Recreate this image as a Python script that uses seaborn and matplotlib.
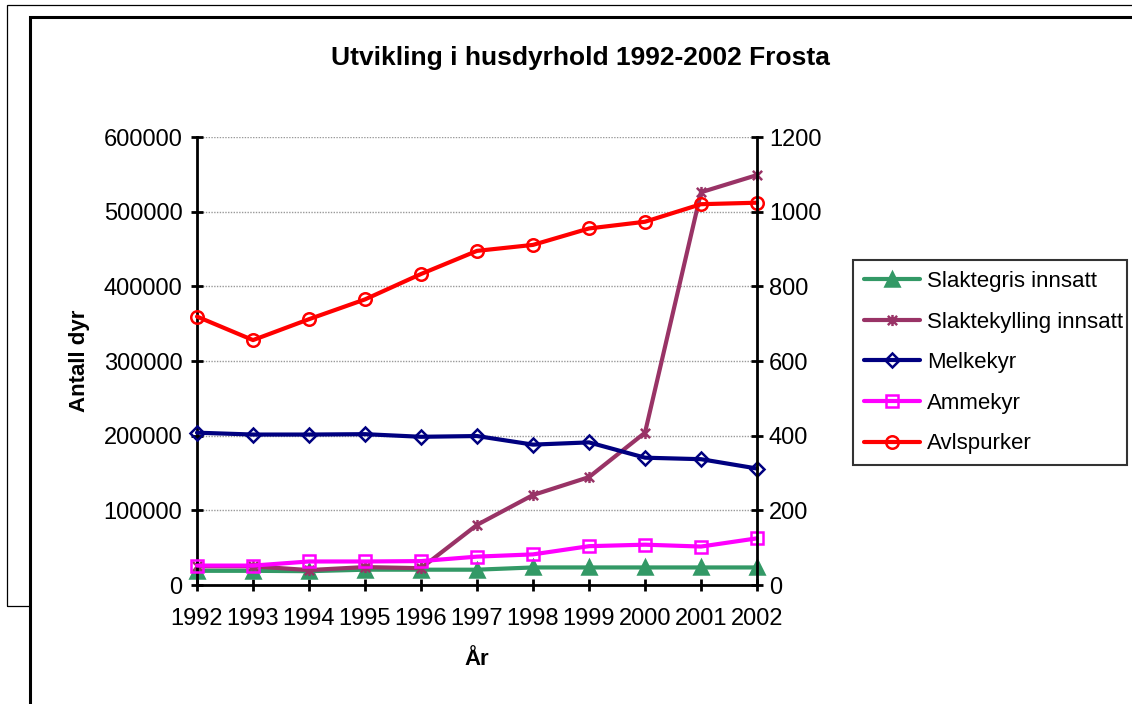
import matplotlib
matplotlib.use("Agg")
import matplotlib.pyplot as plt
import seaborn as sns
import pandas as pd
from matplotlib.patches import Rectangle
from matplotlib.lines import Line2D
from matplotlib.path import Path

years = [1992, 1993, 1994, 1995, 1996, 1997, 1998, 1999, 2000, 2001, 2002]
# left axis
slaktegris = [19000, 19000, 18500, 20500, 20500, 20500, 23500, 23500, 23500, 23500, 23500]
slaktekylling = [25000, 25000, 20000, 24000, 22500, 80500, 120500, 144500, 204000, 526000, 549000]
# right axis
melkekyr = [408, 403, 403, 404, 397, 399, 376, 382, 341, 337, 312]
ammekyr = [52, 52, 63, 63, 64, 76, 82, 104, 108, 103, 125]
avlspurker = [719, 656, 712, 765, 833, 895, 911, 955, 973, 1020, 1024]

left_ticks = [0, 100000, 200000, 300000, 400000, 500000, 600000]
right_ticks = [0, 200, 400, 600, 800, 1000, 1200]

sns.set_theme(style="white")
plt.rcParams['font.family'] = ['Liberation Sans', 'DejaVu Sans']
plt.rcParams['text.color'] = 'black'
plt.rcParams['axes.labelcolor'] = 'black'

W, H = 1132, 704
fig = plt.figure(figsize=(W / 100, H / 100), dpi=100)
fig.patch.set_facecolor("white")

# frames
fig.patches.append(Rectangle((7 / W, 1 - 606 / H), 2.0, (606 - 5) / H, transform=fig.transFigure,
                             fill=False, edgecolor="black", linewidth=0.9, zorder=-3))
fig.patches.append(Rectangle((30 / W, -0.2), 2.0, 1.2 - 17 / H, transform=fig.transFigure,
                             facecolor="white", edgecolor="black", linewidth=2.2, zorder=-2))

ax = fig.add_axes([197 / W, 1 - 585 / H, (757 - 197) / W, (585 - 137) / H])
ax.set_facecolor("none")
ax2 = ax.twinx()
ax2.set_facecolor("none")

star = Path([(-1, -1), (1, 1), (-1, 1), (1, -1), (0, -1.2), (0, 1.2)],
            [Path.MOVETO, Path.LINETO, Path.MOVETO, Path.LINETO, Path.MOVETO, Path.LINETO])

lw = 3.0
styles = {
    "Slaktegris innsatt": dict(color="#339966", marker="^", mfc="#339966", ms=10),
    "Slaktekylling innsatt": dict(color="#993366", marker=star, mfc="#993366", ms=8),
    "Melkekyr": dict(color="#000080", marker="D", mfc="none", ms=7.5),
    "Ammekyr": dict(color="#FF00FF", marker="s", mfc="none", ms=9),
    "Avlspurker": dict(color="#FF0000", marker="o", mfc="none", ms=9),
}
series = [
    ("Slaktegris innsatt", slaktegris, ax),
    ("Slaktekylling innsatt", slaktekylling, ax),
    ("Melkekyr", melkekyr, ax2),
    ("Ammekyr", ammekyr, ax2),
    ("Avlspurker", avlspurker, ax2),
]
handles = []
for name, vals, a in series:
    st = styles[name]
    df = pd.DataFrame({"year": years, "value": vals})
    sns.lineplot(data=df, x="year", y="value", ax=a, color=st["color"], linewidth=lw,
                 marker=st["marker"], markersize=st["ms"], markerfacecolor=st["mfc"],
                 markeredgecolor=st["color"], markeredgewidth=1.8, clip_on=False, legend=False)
    handles.append(Line2D([0], [0], color=st["color"], linewidth=lw, marker=st["marker"],
                          markersize=st["ms"], markerfacecolor=st["mfc"], markeredgecolor=st["color"],
                          markeredgewidth=1.8))

ax.set_xlim(1992, 2002)
ax.set_ylim(0, 600000)
ax2.set_ylim(0, 1200)
ax.set_xticks(years)
ax.set_xticklabels([str(y) for y in years])
ax.set_yticks(left_ticks)
ax.set_yticklabels([str(v) for v in left_ticks])
ax2.set_yticks(right_ticks)
ax2.set_yticklabels([str(v) for v in right_ticks])

ax.yaxis.grid(True, color="#999999", linestyle=(0, (1, 1)), linewidth=1.0)
ax.xaxis.grid(False)
ax2.grid(False)

for a in (ax, ax2):
    for s in a.spines.values():
        s.set_visible(False)
ax.spines["left"].set_visible(True)
ax.spines["bottom"].set_visible(True)
ax2.spines["right"].set_visible(True)
for s in (ax.spines["left"], ax.spines["bottom"], ax2.spines["right"]):
    s.set_color("black")
    s.set_linewidth(2.0)

fs = 17
ax.tick_params(axis="x", direction="inout", length=9, width=2, colors="black", labelsize=fs, pad=12,
               bottom=True)
ax.tick_params(axis="y", direction="inout", length=9, width=2, colors="black", labelsize=fs, pad=6,
               left=True)
ax2.tick_params(axis="y", direction="inout", length=9, width=2, colors="black", labelsize=fs, pad=4,
                right=True)

ax.set_xlabel("År", fontsize=16, fontweight="bold", labelpad=14)
ax.set_ylabel("Antall dyr", fontsize=16, fontweight="bold", labelpad=10)
ax2.set_ylabel("")

fig.text(580 / W, 1 - 58 / H, "Utvikling i husdyrhold 1992-2002 Frosta", ha="center", va="center",
         fontsize=19, fontweight="bold")

leg = fig.legend(handles, [s[0] for s in series], loc="upper left",
                 bbox_to_anchor=(853 / W, 1 - 260 / H, (1127 - 853) / W, 0), mode="expand",
                 frameon=True, fontsize=16,
                 handlelength=2.5, handletextpad=0.35, labelspacing=0.88, borderpad=0.5,
                 borderaxespad=0, fancybox=False)
leg.get_frame().set_edgecolor("black")
leg.get_frame().set_linewidth(1.5)
for t in leg.get_texts():
    t.set_color("black")

fig.savefig("out.png", dpi=100)
